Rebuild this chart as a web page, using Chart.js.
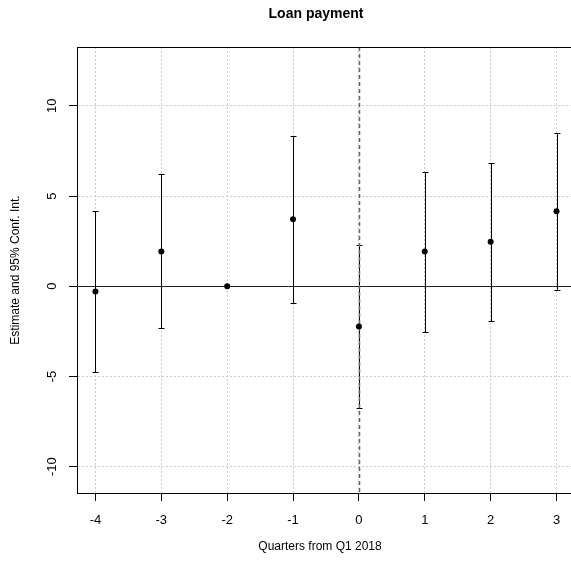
<!DOCTYPE html>
<html>
<head>
<meta charset="utf-8">
<script src="https://cdn.jsdelivr.net/npm/chart.js@4"></script>
<style>
  html, body { margin: 0; padding: 0; background: #fff; overflow: hidden; }
  canvas { display: block; }
</style>
</head>
<body>
<canvas id="c" width="571" height="567" style="width:571px;height:567px"></canvas>
<script>
// Event-study estimates by quarter relative to Q1 2018
const quarters = [-4, -3, -2, -1, 0, 1, 2, 3];
const estimate = [-0.29, 1.93, 0, 3.71, -2.23, 1.93, 2.47, 4.15];
const ciLower  = [-4.76, -2.34, 0, -0.93, -6.76, -2.51, -1.95, -0.21];
const ciUpper  = [4.17, 6.20, 0, 8.30, 2.30, 6.34, 6.85, 8.52];

const yTickValues = [-10, -5, 0, 5, 10];
const xTickLabels = ['-4', '-3', '-2', '-1', '0', '1', '2', '3'];

const titleText = 'Loan payment';
const xTitle = 'Quarters from Q1 2018';
const yTitle = 'Estimate and 95% Conf. Int.';

const FONT = '"Liberation Sans", Arial, Helvetica, sans-serif';

const coefPlot = {
  id: 'coefPlot',
  beforeDatasetsDraw(chart) {
    const { ctx, chartArea: a, scales: { x, y } } = chart;
    ctx.save();
    ctx.beginPath();
    ctx.rect(a.left, a.top, a.right - a.left, a.bottom - a.top);
    ctx.clip();

    // horizontal reference at zero
    const y0 = Math.round(y.getPixelForValue(0)) + 0.5;
    ctx.strokeStyle = '#222';
    ctx.lineWidth = 1;
    ctx.beginPath();
    ctx.moveTo(a.left, y0);
    ctx.lineTo(a.right, y0);
    ctx.stroke();

    // 95% confidence intervals with end caps
    ctx.strokeStyle = '#000';
    quarters.forEach((q, i) => {
      if (ciUpper[i] === ciLower[i]) return;
      const px = Math.round(x.getPixelForValue(q)) + 0.5;
      const top = Math.round(y.getPixelForValue(ciUpper[i])) + 0.5;
      const bot = Math.round(y.getPixelForValue(ciLower[i])) + 0.5;
      ctx.beginPath();
      ctx.moveTo(px, top); ctx.lineTo(px, bot);
      ctx.moveTo(px - 3, top); ctx.lineTo(px + 3, top);
      ctx.moveTo(px - 3, bot); ctx.lineTo(px + 3, bot);
      ctx.stroke();
    });

    // dashed line marking the treatment quarter
    const xv = Math.round(x.getPixelForValue(0)) + 0.5;
    ctx.setLineDash([4, 3]);
    ctx.strokeStyle = '#666';
    ctx.lineWidth = 1.5;
    ctx.beginPath();
    ctx.moveTo(xv, a.top);
    ctx.lineTo(xv, a.bottom);
    ctx.stroke();
    ctx.restore();
  },
  afterDraw(chart) {
    const { ctx, chartArea: a, scales: { x, y } } = chart;
    ctx.save();
    // top edge of the plot frame
    ctx.strokeStyle = '#000';
    ctx.lineWidth = 1;
    const yt = Math.round(a.top) + 0.5;
    ctx.beginPath();
    ctx.moveTo(a.left, yt);
    ctx.lineTo(a.right, yt);
    ctx.stroke();

    ctx.fillStyle = '#000';
    ctx.font = '13px ' + FONT;
    ctx.textAlign = 'center';
    ctx.textBaseline = 'middle';
    // x tick labels
    quarters.forEach((q, i) => {
      ctx.fillText(xTickLabels[i], x.getPixelForValue(q), 520);
    });
    // y tick labels, rotated parallel to the axis
    yTickValues.forEach(v => {
      const py = y.getPixelForValue(v);
      ctx.save();
      ctx.translate(52, py);
      ctx.rotate(-Math.PI / 2);
      ctx.fillText(String(v), 0, 0);
      ctx.restore();
    });

    // main title
    ctx.font = 'bold 14px ' + FONT;
    ctx.fillText(titleText, 316, 14);

    // axis titles
    ctx.font = '12px ' + FONT;
    ctx.fillText(xTitle, 320, 547);
    ctx.save();
    ctx.translate(16, 270);
    ctx.rotate(-Math.PI / 2);
    ctx.fillText(yTitle, 0, 0);
    ctx.restore();
    ctx.restore();
  }
};

new Chart(document.getElementById('c'), {
  type: 'scatter',
  data: {
    datasets: [{
      data: quarters.map((q, i) => ({ x: q, y: estimate[i] })),
      backgroundColor: '#000',
      borderColor: '#000',
      pointRadius: 3,
      pointHoverRadius: 3,
      borderWidth: 0
    }]
  },
  options: {
    responsive: false,
    animation: false,
    events: [],
    layout: { autoPadding: false, padding: { top: 47, right: 0, left: 0, bottom: 0 } },
    plugins: {
      legend: { display: false },
      title: { display: false },
      tooltip: { enabled: false }
    },
    scales: {
      x: {
        type: 'linear',
        min: -4.28,
        max: 3.22,
        afterFit: s => { s.height = 74; },
        afterBuildTicks: s => { s.ticks = quarters.map(v => ({ value: v })); },
        ticks: { includeBounds: false, display: false },
        grid: { color: '#cccccc', lineWidth: 1, drawTicks: true, tickLength: 8,
                tickColor: '#000', tickWidth: 1, tickBorderDash: [] },
        border: { display: true, color: '#000', width: 1, dash: [2, 2] }
      },
      y: {
        type: 'linear',
        min: -11.46,
        max: 13.26,
        afterFit: s => { s.width = 77; },
        afterBuildTicks: s => { s.ticks = yTickValues.map(v => ({ value: v })); },
        ticks: { includeBounds: false, display: false },
        grid: { color: '#cccccc', lineWidth: 1, drawTicks: true, tickLength: 8,
                tickColor: '#000', tickWidth: 1, tickBorderDash: [] },
        border: { display: true, color: '#000', width: 1, dash: [2, 2] }
      }
    }
  },
  plugins: [coefPlot]
});
</script>
</body>
</html>
